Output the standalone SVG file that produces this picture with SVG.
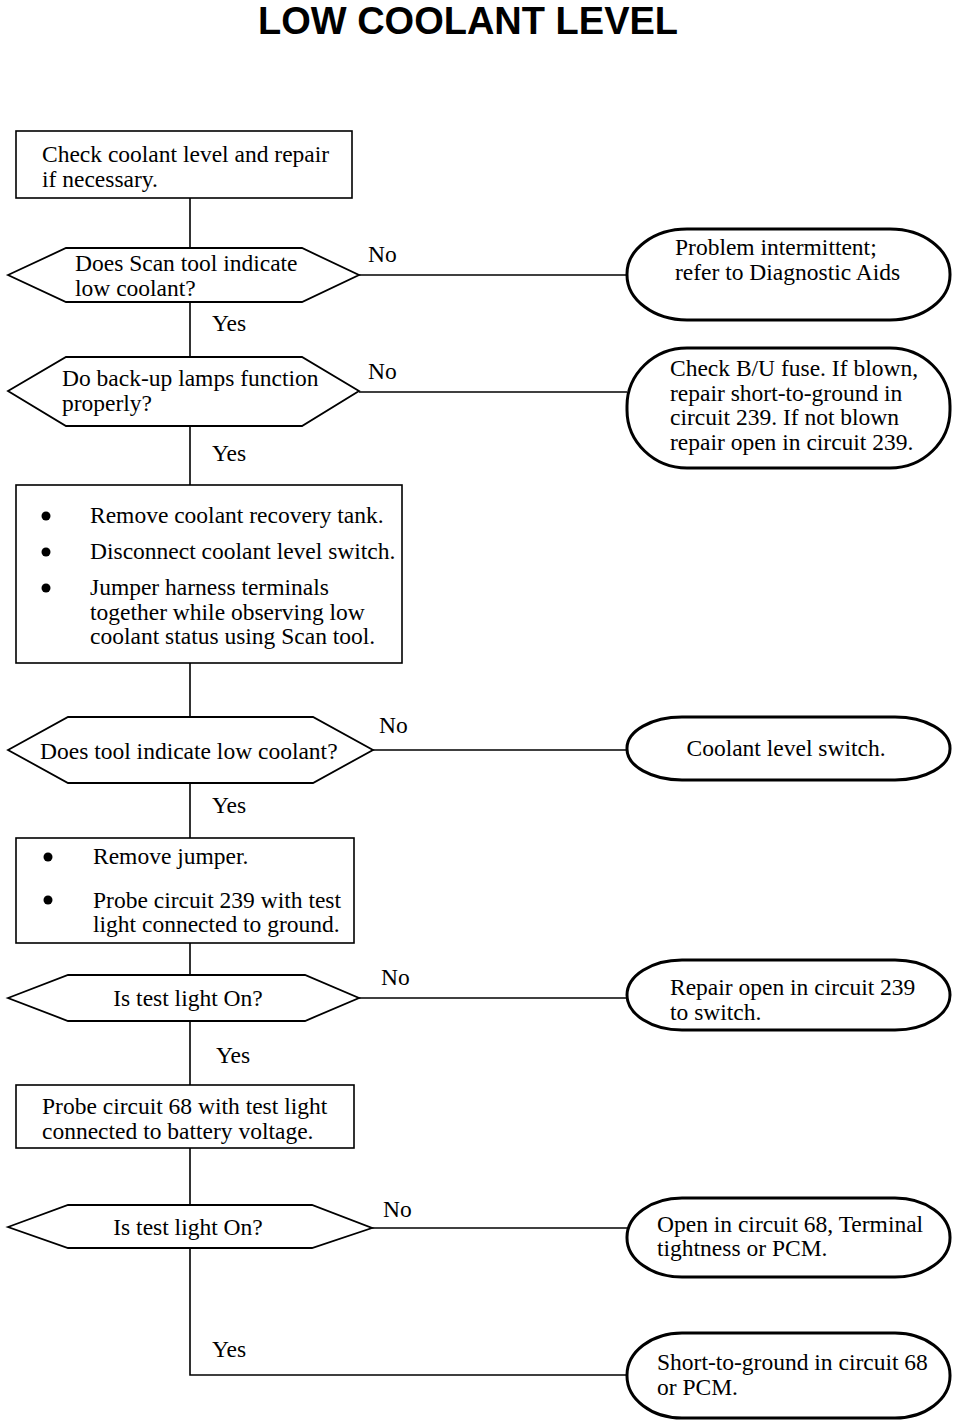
<svg xmlns="http://www.w3.org/2000/svg" width="960" height="1422" viewBox="0 0 960 1422">
<style>
.t{font-family:"Liberation Serif","Times New Roman",serif;font-size:23.5px;fill:#000}
.title{font-family:"Liberation Sans",Arial,sans-serif;font-size:38px;font-weight:bold;fill:#000}
.box{fill:#fff;stroke:#000;stroke-width:1.6}
.hex{fill:#fff;stroke:#000;stroke-width:1.8}
.ov{fill:#fff;stroke:#000;stroke-width:3}
.ln{fill:none;stroke:#000;stroke-width:1.6}
</style>
<rect width="960" height="1422" fill="#fff"/>
<text class="title" x="468" y="34" text-anchor="middle">LOW COOLANT LEVEL</text>
<g id="connectors">
<line class="ln" x1="190" y1="198" x2="190" y2="248"/>
<line class="ln" x1="190" y1="302" x2="190" y2="357"/>
<line class="ln" x1="190" y1="426" x2="190" y2="485"/>
<line class="ln" x1="190" y1="663" x2="190" y2="717"/>
<line class="ln" x1="190" y1="783" x2="190" y2="838"/>
<line class="ln" x1="190" y1="943" x2="190" y2="975"/>
<line class="ln" x1="190" y1="1021" x2="190" y2="1085"/>
<line class="ln" x1="190" y1="1148" x2="190" y2="1205"/>
<polyline class="ln" points="190,1248 190,1375 627,1375"/>
<line class="ln" x1="359" y1="275" x2="627" y2="275"/>
<line class="ln" x1="359" y1="392" x2="627" y2="392"/>
<line class="ln" x1="373" y1="750" x2="627" y2="750"/>
<line class="ln" x1="359" y1="998" x2="627" y2="998"/>
<line class="ln" x1="372" y1="1228" x2="627" y2="1228"/>
<text class="t" x="368" y="262">No</text>
<text class="t" x="212" y="331">Yes</text>
<text class="t" x="368" y="379">No</text>
<text class="t" x="212" y="461">Yes</text>
<text class="t" x="379" y="733">No</text>
<text class="t" x="212" y="813">Yes</text>
<text class="t" x="381" y="985">No</text>
<text class="t" x="216" y="1063">Yes</text>
<text class="t" x="383" y="1217">No</text>
<text class="t" x="212" y="1357">Yes</text>
</g>
<g id="n1">
<rect class="box" x="16" y="131" width="336" height="67"/>
<text class="t" x="42" y="162">Check coolant level and repair</text>
<text class="t" x="42" y="187">if necessary.</text>
</g>
<g id="d1">
<polygon class="hex" points="8,275 66,248 302,248 359,275 302,302 66,302"/>
<text class="t" x="75" y="271">Does Scan tool indicate</text>
<text class="t" x="75" y="296">low coolant?</text>
</g>
<g id="o1">
<rect class="ov" x="627" y="229" width="323" height="91" rx="60" ry="45"/>
<text class="t" x="675" y="255">Problem intermittent;</text>
<text class="t" x="675" y="280">refer to Diagnostic Aids</text>
</g>
<g id="d2">
<polygon class="hex" points="8,391 66,357 302,357 359,391 302,426 66,426"/>
<text class="t" x="62" y="386">Do back-up lamps function</text>
<text class="t" x="62" y="411">properly?</text>
</g>
<g id="o2">
<rect class="ov" x="627" y="348" width="323" height="120" rx="60" ry="58"/>
<text class="t" x="670" y="376">Check B/U fuse. If blown,</text>
<text class="t" x="670" y="401">repair short-to-ground in</text>
<text class="t" x="670" y="425">circuit 239. If not blown</text>
<text class="t" x="670" y="450">repair open in circuit 239.</text>
</g>
<g id="n2">
<rect class="box" x="16" y="485" width="386" height="178"/>
<circle cx="46" cy="516" r="4.5"/>
<circle cx="46" cy="552" r="4.5"/>
<circle cx="46" cy="588" r="4.5"/>
<text class="t" x="90" y="523">Remove coolant recovery tank.</text>
<text class="t" x="90" y="559">Disconnect coolant level switch.</text>
<text class="t" x="90" y="595">Jumper harness terminals</text>
<text class="t" x="90" y="620">together while observing low</text>
<text class="t" x="90" y="644">coolant status using Scan tool.</text>
</g>
<g id="d3">
<polygon class="hex" points="8,750 68,717 313,717 373,750 313,783 68,783"/>
<text class="t" x="40" y="759">Does tool indicate low coolant?</text>
</g>
<g id="o3">
<rect class="ov" x="627" y="717" width="323" height="63" rx="55" ry="31"/>
<text class="t" x="786" y="756" text-anchor="middle">Coolant level switch.</text>
</g>
<g id="n3">
<rect class="box" x="16" y="838" width="338" height="105"/>
<circle cx="48" cy="857" r="4.5"/>
<circle cx="48" cy="900" r="4.5"/>
<text class="t" x="93" y="864">Remove jumper.</text>
<text class="t" x="93" y="908">Probe circuit 239 with test</text>
<text class="t" x="93" y="932">light connected to ground.</text>
</g>
<g id="d4">
<polygon class="hex" points="8,998 68,975 305,975 359,998 305,1021 68,1021"/>
<text class="t" x="188" y="1006" text-anchor="middle">Is test light On?</text>
</g>
<g id="o4">
<rect class="ov" x="627" y="960" width="323" height="70" rx="55" ry="35"/>
<text class="t" x="670" y="995">Repair open in circuit 239</text>
<text class="t" x="670" y="1020">to switch.</text>
</g>
<g id="n4">
<rect class="box" x="16" y="1085" width="338" height="63"/>
<text class="t" x="42" y="1114">Probe circuit 68 with test light</text>
<text class="t" x="42" y="1139">connected to battery voltage.</text>
</g>
<g id="d5">
<polygon class="hex" points="8,1227 68,1205 312,1205 372,1228 312,1248 68,1248"/>
<text class="t" x="188" y="1235" text-anchor="middle">Is test light On?</text>
</g>
<g id="o5">
<rect class="ov" x="627" y="1198" width="323" height="79" rx="55" ry="39"/>
<text class="t" x="657" y="1232">Open in circuit 68, Terminal</text>
<text class="t" x="657" y="1256">tightness or PCM.</text>
</g>
<g id="o6">
<rect class="ov" x="627" y="1333" width="323" height="85" rx="55" ry="42"/>
<text class="t" x="657" y="1370">Short-to-ground in circuit 68</text>
<text class="t" x="657" y="1395">or PCM.</text>
</g>
</svg>
